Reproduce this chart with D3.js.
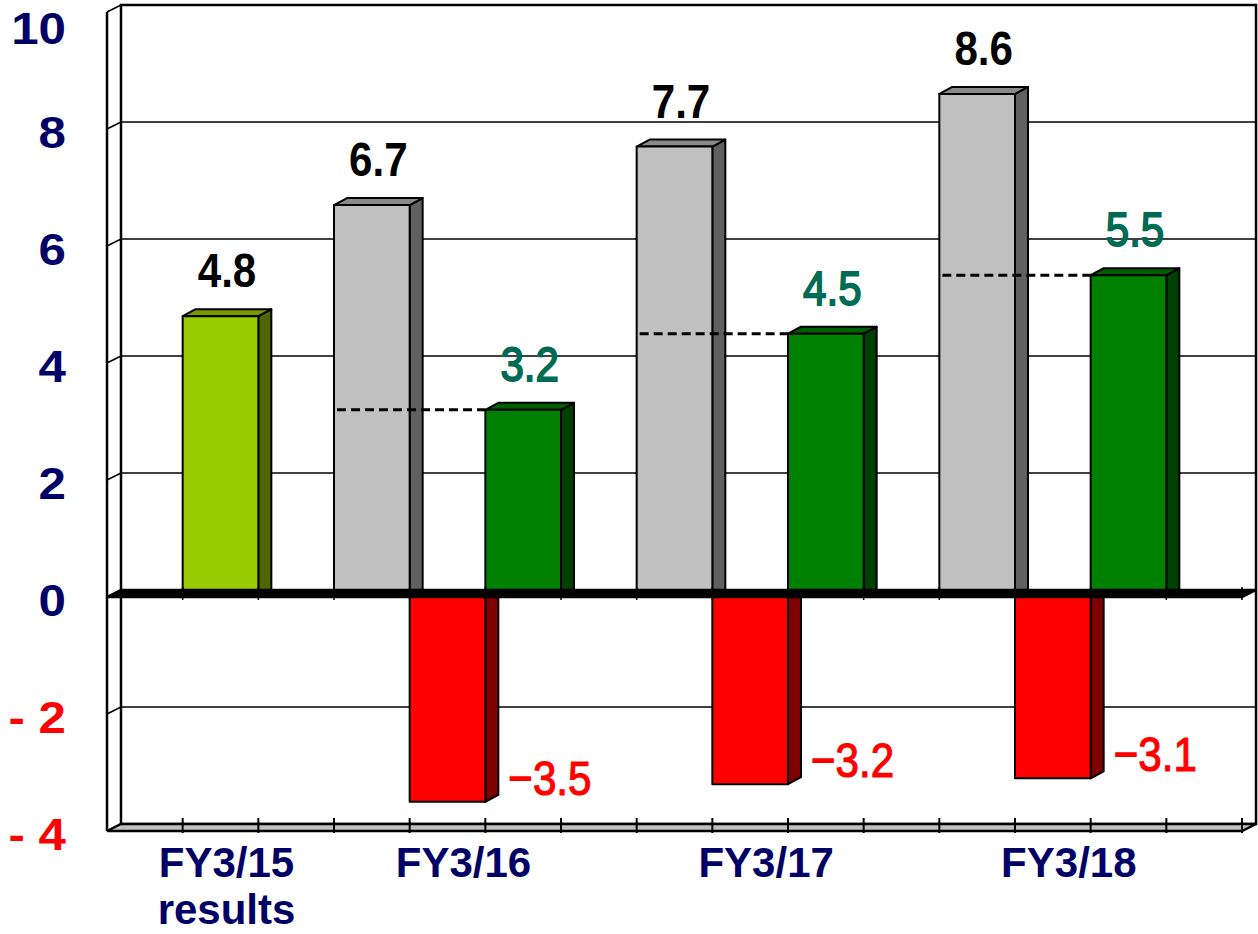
<!DOCTYPE html>
<html>
<head>
<meta charset="utf-8">
<script src="https://cdn.jsdelivr.net/npm/d3@7"></script>
<style>
  html, body { margin: 0; padding: 0; background: #fff; }
  svg { display: block; font-family: "Liberation Sans", Arial, sans-serif; }
</style>
</head>
<body>
<svg id="chart" width="1258" height="934"></svg>
<script>
// data
const groups = ['FY3/15', 'FY3/16', 'FY3/17', 'FY3/18'];
const groupSub = ['results', '', '', ''];
const resultValues = [4.8];              // FY3/15 results
const planValues = [6.7, 7.7, 8.6];      // grey bars, FY3/16..18
const minusValues = [-3.5, -3.2, -3.1];  // red bars
const netValues = [3.2, 4.5, 5.5];       // green bars
const yTicks = [10, 8, 6, 4, 2, 0, -2, -4];

const svg = d3.select('#chart');
const navy = '#000066';
const labelGreen = '#006b54';

// front plane scales, back wall is shifted by the depth
const nSlots = 15;
const x = d3.scaleBand().domain(d3.range(nSlots)).range([107, 1242]).paddingInner(0);
const y = d3.scaleLinear().domain([-4, 10]).range([831, 12]);
const bw = x.bandwidth();
const wallDx = 14, wallDy = -7;
const barDx = 13, barDy = -7;
const x0 = x.range()[0], x1 = x.range()[1];

// which slot each bar sits in
const slotOf = (gi, s) => 4 * gi - 1 + s; // s: 0 grey, 1 red, 2 green

const bars = [];
resultValues.forEach(v => bars.push({ slot: 1, v, front: '#99cc00', side: '#4d6600', top: '#7a9900', label: '#000', weight: 'bold', thick: 0 }));
planValues.forEach((v, i) => bars.push({ slot: slotOf(i + 1, 0), v, front: '#c0c0c0', side: '#606060', top: '#8a8a8a', label: '#000', weight: 'bold', thick: 0 }));
minusValues.forEach((v, i) => bars.push({ slot: slotOf(i + 1, 1), v, front: '#ff0000', side: '#800000', top: '#c00000', label: '#ff0000', weight: 'normal', thick: 1.2 }));
netValues.forEach((v, i) => bars.push({ slot: slotOf(i + 1, 2), v, front: '#008000', side: '#004000', top: '#006000', label: labelGreen, weight: 'normal', thick: 1.8 }));

const pts = a => a.map(p => p.join(',')).join(' ');

// back wall
const wall = svg.append('g');
wall.append('rect')
  .attr('x', x0 + wallDx).attr('y', y(10) + wallDy)
  .attr('width', x1 - x0).attr('height', y(-4) - y(10))
  .attr('fill', '#fff').attr('stroke', '#000').attr('stroke-width', 2.5);

// gridlines on the wall + small diagonals on the side wall
yTicks.filter(v => v !== 0 && v !== 10 && v !== -4).forEach(v => {
  wall.append('line')
    .attr('x1', x0 + wallDx).attr('x2', x1 + wallDx)
    .attr('y1', y(v) + wallDy).attr('y2', y(v) + wallDy)
    .attr('stroke', '#000').attr('stroke-width', 1.6);
});
yTicks.forEach(v => {
  wall.append('line')
    .attr('x1', x0).attr('y1', y(v))
    .attr('x2', x0 + wallDx).attr('y2', y(v) + wallDy)
    .attr('stroke', '#000').attr('stroke-width', 1.6);
});
wall.append('line')
  .attr('x1', x0).attr('x2', x0).attr('y1', y(10)).attr('y2', y(-4))
  .attr('stroke', '#000').attr('stroke-width', 2.5);

// floor
wall.append('polygon')
  .attr('points', pts([[x0, y(-4)], [x1, y(-4)], [x1 + wallDx, y(-4) + wallDy], [x0 + wallDx, y(-4) + wallDy]]))
  .attr('fill', '#c0c0c0').attr('stroke', '#000').attr('stroke-width', 2.5);
d3.range(1, nSlots + 1).forEach(i => {
  const tx = x0 + i * bw;
  wall.append('line')
    .attr('x1', tx).attr('x2', tx).attr('y1', y(-4) - 13).attr('y2', y(-4) + 2)
    .attr('stroke', '#000').attr('stroke-width', 2);
});

// bars
const barG = svg.append('g');
bars.forEach(d => {
  const bx = x(d.slot), bx2 = bx + bw;
  const yt = Math.min(y(d.v), y(0)), yb = Math.max(y(d.v), y(0));
  const g = barG.append('g').attr('stroke', '#000').attr('stroke-width', 2).attr('stroke-linejoin', 'round');
  g.append('polygon')
    .attr('points', pts([[bx2, yt], [bx2 + barDx, yt + barDy], [bx2 + barDx, yb + barDy], [bx2, yb]]))
    .attr('fill', d.side);
  if (d.v > 0) {
    g.append('polygon')
      .attr('points', pts([[bx, yt], [bx + barDx, yt + barDy], [bx2 + barDx, yt + barDy], [bx2, yt]]))
      .attr('fill', d.top);
  }
  g.append('rect')
    .attr('x', bx).attr('y', yt).attr('width', bw).attr('height', yb - yt)
    .attr('fill', d.front);
});

// zero plane
svg.append('polygon')
  .attr('points', pts([[x0, y(0)], [x1, y(0)], [x1 + wallDx, y(0) + wallDy], [x0 + wallDx, y(0) + wallDy]]))
  .attr('fill', '#000').attr('stroke', '#000').attr('stroke-width', 2.5);
d3.range(1, nSlots + 1).forEach(i => {
  const tx = x0 + i * bw;
  svg.append('line')
    .attr('x1', tx).attr('x2', tx).attr('y1', y(0) - 10).attr('y2', y(0) + 3)
    .attr('stroke', '#000').attr('stroke-width', 1.5);
});

// dashed links grey -> green
netValues.forEach((v, i) => {
  svg.append('line')
    .attr('x1', x(slotOf(i + 1, 0)) + 3).attr('x2', x(slotOf(i + 1, 2)))
    .attr('y1', y(v)).attr('y2', y(v))
    .attr('stroke', '#000').attr('stroke-width', 3).attr('stroke-dasharray', '9,5');
});

// value labels
const fmt = v => v < 0 ? '\u2212' + d3.format('.1f')(-v) : d3.format('.1f')(v);
bars.forEach(d => {
  let tx, ty, anchor;
  if (d.v > 0) {
    tx = x(d.slot) + (bw + barDx) / 2; ty = y(d.v) - 29; anchor = 'middle';
  } else {
    tx = x(d.slot) + bw + barDx + 10; ty = y(d.v) - 7; anchor = 'start';
  }
  svg.append('text')
    .attr('transform', `translate(${tx},${ty}) scale(0.86,1)`)
    .attr('text-anchor', anchor)
    .attr('font-size', 49)
    .attr('font-weight', d.weight)
    .attr('fill', d.label)
    .attr('stroke', d.thick ? d.label : 'none')
    .attr('stroke-width', d.thick)
    .text(fmt(d.v));
});

// y labels
yTicks.forEach(v => {
  const cy = Math.max(y(v) + 3, 28);
  svg.append('text')
    .attr('transform', `translate(66,${cy + 16}) scale(1.12,1)`)
    .attr('text-anchor', 'end')
    .attr('font-size', 44)
    .attr('font-weight', 'bold')
    .attr('fill', v < 0 ? '#ff0000' : navy)
    .text(v < 0 ? '- ' + (-v) : v);
});

// category labels
groups.forEach((name, gi) => {
  const cx = (gi === 0 ? x(1) + 6 : x(4 * gi) + 16) + bw / 2;
  const t = svg.append('text')
    .attr('text-anchor', 'middle')
    .attr('font-size', 42)
    .attr('font-weight', 'bold')
    .attr('fill', navy);
  t.append('tspan').attr('x', cx).attr('y', 877).text(name);
  if (groupSub[gi]) t.append('tspan').attr('x', cx).attr('y', 924).text(groupSub[gi]);
});
</script>
</body>
</html>
